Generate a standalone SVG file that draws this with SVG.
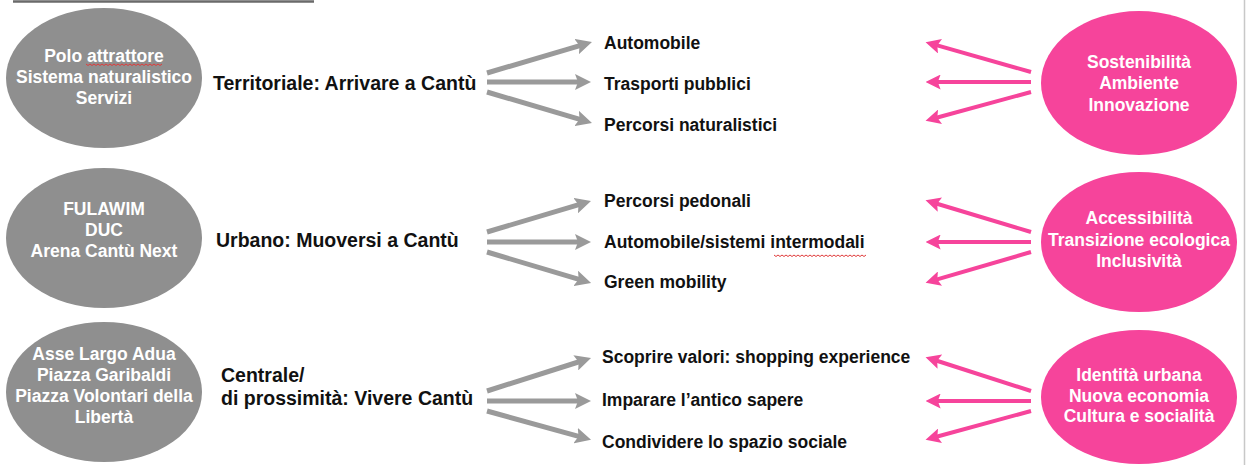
<svg xmlns="http://www.w3.org/2000/svg" width="1246" height="465" viewBox="0 0 1246 465">
<defs>
<style>
.bg{fill:#ffffff}
.gnode{fill:#8f8f8f}
.pnode{fill:#f6449b}
.wt{font-family:"Liberation Sans",Arial,Helvetica,sans-serif;font-weight:bold;font-size:17.5px;fill:#ffffff;text-anchor:middle}
.lbl{font-family:"Liberation Sans",Arial,Helvetica,sans-serif;font-weight:bold;font-size:19.5px;fill:#111111}
.item{font-family:"Liberation Sans",Arial,Helvetica,sans-serif;font-weight:bold;font-size:17.5px;fill:#111111}
.ga{stroke:#9a9a9a;stroke-width:5;fill:none;marker-end:url(#ahg)}
.pa{stroke:#f6449b;stroke-width:4;fill:none;marker-end:url(#ahp)}
.spell{stroke:#e03a3a;stroke-width:1;fill:none}
</style>
<marker id="ahg" markerUnits="userSpaceOnUse" viewBox="0 0 16 16" refX="6" refY="8" markerWidth="16" markerHeight="16" orient="auto">
<path d="M0,0 L16,8 L0,16 L3,8 z" fill="#9a9a9a"/>
</marker>
<marker id="ahp" markerUnits="userSpaceOnUse" viewBox="0 0 16 16" refX="6" refY="8" markerWidth="15" markerHeight="15" orient="auto">
<path d="M0,0 L16,8 L0,16 L3,8 z" fill="#f6449b"/>
</marker>
</defs>
<rect class="bg" x="0" y="0" width="1246" height="465"/>
<line x1="13" y1="1.5" x2="314" y2="1.5" stroke="#6a6a6a" stroke-width="2.5"/>
<line x1="1244.5" y1="0" x2="1244.5" y2="465" stroke="#c8c8c8" stroke-width="1.5"/>

<g id="connectors">
<path class="ga" d="M487,73 L582.4,44.8"/>
<path class="ga" d="M487,82 L581,82"/>
<path class="ga" d="M487,92 L582.4,120.2"/>
<path class="ga" d="M487,232 L581.4,203.9"/>
<path class="ga" d="M487,242 L581,242"/>
<path class="ga" d="M487,252 L581.5,280.1"/>
<path class="ga" d="M487,391 L581.5,361"/>
<path class="ga" d="M487,401 L581,401"/>
<path class="ga" d="M487,411 L581.4,437.2"/>
<path class="pa" d="M1031,72 L934.6,44.7"/>
<path class="pa" d="M1031,82 L935,82"/>
<path class="pa" d="M1031,92 L934.6,118.3"/>
<path class="pa" d="M1031,232 L934.5,203"/>
<path class="pa" d="M1031,242 L935,242"/>
<path class="pa" d="M1031,252 L934.6,280.2"/>
<path class="pa" d="M1031,391 L934.5,360"/>
<path class="pa" d="M1031,401 L935,401"/>
<path class="pa" d="M1031,411 L934.6,437.3"/>
</g>

<g id="node-g1">
<ellipse class="gnode" cx="104" cy="78" rx="98" ry="70"/>
<text class="wt" x="104" y="62">Polo attrattore</text>
<text class="wt" x="104" y="83">Sistema naturalistico</text>
<text class="wt" x="104" y="104">Servizi</text>
<path class="spell" d="M86,64 l2,1.5 l2,-1.5 l2,1.5 l2,-1.5 l2,1.5 l2,-1.5 l2,1.5 l2,-1.5 l2,1.5 l2,-1.5 l2,1.5 l2,-1.5 l2,1.5 l2,-1.5 l2,1.5 l2,-1.5 l2,1.5 l2,-1.5 l2,1.5 l2,-1.5 l2,1.5 l2,-1.5 l2,1.5 l2,-1.5 l2,1.5 l2,-1.5 l2,1.5 l2,-1.5 l2,1.5 l2,-1.5 l2,1.5 l2,-1.5 l2,1.5 l2,-1.5 l2,1.5 l2,-1.5 l2,1.5 l2,-1.5"/>
</g>
<g id="node-g2">
<ellipse class="gnode" cx="104" cy="238" rx="98" ry="70"/>
<text class="wt" x="104" y="215">FULAWIM</text>
<text class="wt" x="104" y="236">DUC</text>
<text class="wt" x="104" y="257">Arena Cantù Next</text>
</g>
<g id="node-g3">
<ellipse class="gnode" cx="104" cy="392" rx="98" ry="70"/>
<text class="wt" x="104" y="360">Asse Largo Adua</text>
<text class="wt" x="104" y="381">Piazza Garibaldi</text>
<text class="wt" x="104" y="402">Piazza Volontari della</text>
<text class="wt" x="104" y="423">Libertà</text>
</g>

<g id="node-l1"><text class="lbl" x="213" y="90">Territoriale: Arrivare a Cantù</text></g>
<g id="node-l2"><text class="lbl" x="216" y="247">Urbano: Muoversi a Cantù</text></g>
<g id="node-l3">
<text class="lbl" x="221" y="382">Centrale/</text>
<text class="lbl" x="221" y="405">di prossimità: Vivere Cantù</text>
</g>

<g id="node-i1"><text class="item" x="604" y="49">Automobile</text></g>
<g id="node-i2"><text class="item" x="604" y="90">Trasporti pubblici</text></g>
<g id="node-i3"><text class="item" x="604" y="131">Percorsi naturalistici</text></g>
<g id="node-i4"><text class="item" x="604" y="207">Percorsi pedonali</text></g>
<g id="node-i5"><text class="item" x="604" y="248">Automobile/sistemi intermodali</text>
<path class="spell" d="M774,255 l2,1.5 l2,-1.5 l2,1.5 l2,-1.5 l2,1.5 l2,-1.5 l2,1.5 l2,-1.5 l2,1.5 l2,-1.5 l2,1.5 l2,-1.5 l2,1.5 l2,-1.5 l2,1.5 l2,-1.5 l2,1.5 l2,-1.5 l2,1.5 l2,-1.5 l2,1.5 l2,-1.5 l2,1.5 l2,-1.5 l2,1.5 l2,-1.5 l2,1.5 l2,-1.5 l2,1.5 l2,-1.5 l2,1.5 l2,-1.5 l2,1.5 l2,-1.5 l2,1.5 l2,-1.5 l2,1.5 l2,-1.5 l2,1.5 l2,-1.5 l2,1.5 l2,-1.5 l2,1.5 l2,-1.5 l2,1.5 l2,-1.5"/>
</g>
<g id="node-i6"><text class="item" x="604" y="288">Green mobility</text></g>
<g id="node-i7"><text class="item" x="602" y="363">Scoprire valori: shopping experience</text></g>
<g id="node-i8"><text class="item" x="602" y="406">Imparare l’antico sapere</text></g>
<g id="node-i9"><text class="item" x="602" y="448">Condividere lo spazio sociale</text></g>

<g id="node-p1">
<ellipse class="pnode" cx="1139" cy="83" rx="98" ry="72"/>
<text class="wt" x="1139" y="68">Sostenibilità</text>
<text class="wt" x="1139" y="89">Ambiente</text>
<text class="wt" x="1139" y="111">Innovazione</text>
</g>
<g id="node-p2">
<ellipse class="pnode" cx="1139" cy="242" rx="98" ry="70"/>
<text class="wt" x="1139" y="224">Accessibilità</text>
<text class="wt" x="1139" y="246">Transizione ecologica</text>
<text class="wt" x="1139" y="267">Inclusività</text>
</g>
<g id="node-p3">
<ellipse class="pnode" cx="1139" cy="397" rx="98" ry="67"/>
<text class="wt" x="1139" y="381">Identità urbana</text>
<text class="wt" x="1139" y="402">Nuova economia</text>
<text class="wt" x="1139" y="422">Cultura e socialità</text>
</g>
</svg>
